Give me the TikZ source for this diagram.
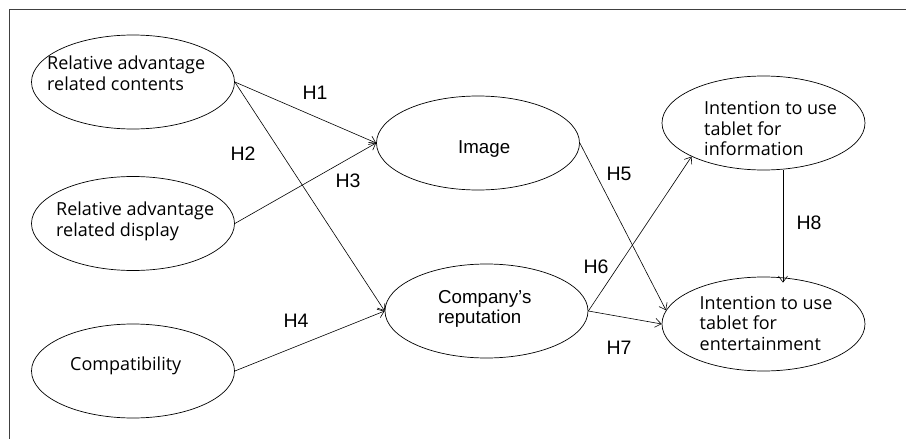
\documentclass[tikz,border=0pt]{standalone}
\usepackage{fontspec}
\setmainfont{Liberation Sans}
\newfontfamily\humfont{Open Sans}
\usetikzlibrary{shapes.geometric,arrows.meta,calc}
\begin{document}
\begin{tikzpicture}[x=1pt,y=-1pt,
  construct/.style={draw,ellipse,line width=0.7pt,minimum width=203pt,minimum height=94pt,inner sep=0pt},
  humtext/.style={anchor=west,align=left,inner sep=0pt,font=\humfont\fontsize{18}{20.5}\selectfont},
  ariatext/.style={anchor=west,align=left,inner sep=0pt,font=\fontsize{18.7}{20}\selectfont},
  hlabel/.style={inner sep=0pt,font=\fontsize{19.5}{20}\selectfont},
  hyparrow/.style={draw,line width=0.6pt,-{Straight Barb[length=6pt,width=9pt]}}]
\useasboundingbox (0,0) rectangle (906,439);
\coordinate (tl) at (9,9);
\coordinate (tr) at (906,9);
\coordinate (bl) at (9,439);
\draw[line width=1pt,black!75] (bl) -- (tl) -- (tr);
% constructs
\node[construct] (rac) at (133,82) {};
\node[construct] (rad) at (133,223.5) {};
\node[construct] (com) at (133,371) {};
\node[construct] (img) at (478,143) {};
\node[construct] (rep) at (486.5,311) {};
\node[construct] (inf) at (763.5,123) {};
\node[construct] (ent) at (763.5,324) {};
% texts
\node[humtext] (trac) at (47,73) {Relative advantage\\related contents};
\node[humtext] (trad) at (56,221.5) {Relative advantage\\related display};
\node[humtext] (tcom) at (70,366) {Compatibility};
\node[ariatext] (timg) at (458,149) {Image};
\node[ariatext] (trep) at (438,309) {Company’s\\reputation};
\node[humtext] (tinf) at (704,128.5) {Intention to use\\tablet for\\information};
\node[humtext] (tent) at (699.5,323) {Intention to use\\tablet for\\entertainment};
% paths
\coordinate (h8) at (783,0);
\draw[hyparrow] (rac.east) -- (img.west);
\draw[hyparrow] (rac.east) -- (rep.west);
\draw[hyparrow] (rad.east) -- (img.west);
\draw[hyparrow] (com.east) -- (rep.west);
\draw[hyparrow] (img.east) -- (ent.172);
\draw[hyparrow] (rep.east) -- (inf.205);
\draw[hyparrow] (rep.east) -- (ent.west);
\draw[hyparrow] (inf.south -| h8) -- ($(ent.north -| h8)+(0,6)$);
% labels
\node[hlabel] (l1) at (315,93) {H1};
\node[hlabel] (l2) at (243,154) {H2};
\node[hlabel] (l3) at (348,181) {H3};
\node[hlabel] (l4) at (296,321) {H4};
\node[hlabel] (l5) at (619,174) {H5};
\node[hlabel] (l6) at (596,267) {H6};
\node[hlabel] (l7) at (619,348) {H7};
\node[hlabel] (l8) at (809,223) {H8};
\end{tikzpicture}
\end{document}
